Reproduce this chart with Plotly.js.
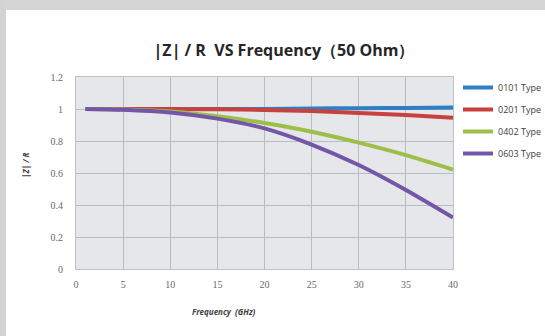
<!DOCTYPE html>
<html>
<head>
<meta charset="utf-8">
<script src="https://cdn.plot.ly/plotly-3.0.1.min.js"></script>
<style>html,body{margin:0;padding:0;background:#fff;}#chart{width:545px;height:336px;}</style>
</head>
<body>
<div id="chart"></div>
<script>
const freq = [1, 5, 10, 15, 20, 25, 30, 35, 40];
const seriesNames = ["0101 Type", "0201 Type", "0402 Type", "0603 Type"];
const type0101 = [1, 1, 1, 1, 1, 1.003, 1.005, 1.007, 1.01];
const type0201 = [1, 1, 1, 0.998, 0.994, 0.988, 0.975, 0.962, 0.946];
const type0402 = [1, 0.997, 0.985, 0.955, 0.912, 0.858, 0.79, 0.712, 0.622];
const type0603 = [1, 0.995, 0.978, 0.94, 0.879, 0.778, 0.65, 0.494, 0.322];
const xTicks = [0, 5, 10, 15, 20, 25, 30, 35, 40];
const yTicks = [0, 0.2, 0.4, 0.6, 0.8, 1, 1.2];
const yTickText = ["0", "0.2", "0.4", "0.6", "0.8", "1", "1.2"];
const colors = ["#2f7fc4", "#c9413f", "#9dbf4a", "#7456a8"];

const values = [type0101, type0201, type0402, type0603];
const traces = values.map((v, i) => ({
  x: freq, y: v, type: "scatter", mode: "lines", name: seriesNames[i],
  legendgroup: "g" + i,
  line: {color: colors[i], width: 4, shape: "spline", smoothing: 0.6}
}));

// pixel helpers for frame shapes (plot area 76..453 x, 77..269 y)
const L = 76, R = 453, T = 77, B = 269;
const px = v => (v - L) / (R - L);
const py = v => (B - v) / (B - T);

const layout = {
  width: 545, height: 336,
  margin: {l: L, r: 545 - R, t: T, b: 336 - B, pad: 0, autoexpand: false},
  paper_bgcolor: "#ffffff",
  plot_bgcolor: "#e5e7ea",
  showlegend: true,
  title: {
    text: "<b>|Z| / R  VS Frequency（50 Ohm）</b>",
    font: {family: "Open Sans, sans-serif", size: 16, color: "#262626"},
    x: 284 / 545, xanchor: "center", y: 1 - 50 / 336, yanchor: "middle"
  },
  xaxis: {
    range: [0, 40], tickvals: xTicks, ticktext: xTicks.map(String),
    showgrid: true, gridcolor: "#b9bbbe", gridwidth: 1,
    zeroline: false, showline: true, linecolor: "#bfc1c4", linewidth: 1, mirror: true,
    ticks: "outside", ticklen: 6, tickcolor: "rgba(0,0,0,0)",
    tickfont: {family: "Liberation Serif, serif", size: 10, color: "#6a6a6a"}
  },
  yaxis: {
    range: [0, 1.2], tickvals: yTicks, ticktext: yTickText,
    showgrid: true, gridcolor: "#b9bbbe", gridwidth: 1,
    zeroline: false, showline: true, linecolor: "#bfc1c4", linewidth: 1, mirror: true,
    ticks: "outside", ticklen: 10, tickcolor: "rgba(0,0,0,0)",
    tickfont: {family: "Liberation Serif, serif", size: 10, color: "#6a6a6a"}
  },
  legend: {
    x: px(458), xanchor: "left", y: py(73), yanchor: "top",
    font: {family: "Open Sans, sans-serif", size: 9, color: "#404040"},
    bgcolor: "rgba(0,0,0,0)", tracegroupgap: 3, itemwidth: 30
  },
  annotations: [
    {text: "<b><i>Frequency  (GHz)</i></b>", xref: "paper", yref: "paper",
     x: px(224), y: py(311), xanchor: "center", yanchor: "middle", showarrow: false,
     font: {family: "Open Sans, sans-serif", size: 8, color: "#404040"}},
    {text: "<b><i>|Z| / R</i></b>", xref: "paper", yref: "paper",
     x: px(25), y: py(165), xanchor: "center", yanchor: "middle", showarrow: false, textangle: -90,
     font: {family: "Open Sans, sans-serif", size: 8, color: "#404040"}}
  ],
  shapes: [
    {type: "rect", xref: "paper", yref: "paper", x0: px(0), x1: px(545), y0: py(0), y1: py(10),
     fillcolor: "#d6d6d6", line: {width: 0}, layer: "below"},
    {type: "rect", xref: "paper", yref: "paper", x0: px(0), x1: px(6), y0: py(0), y1: py(336),
     fillcolor: "#d3d3d3", line: {width: 0}, layer: "below"}
  ]
};

Plotly.newPlot("chart", traces, layout, {displayModeBar: false, staticPlot: true});
</script>
</body>
</html>
